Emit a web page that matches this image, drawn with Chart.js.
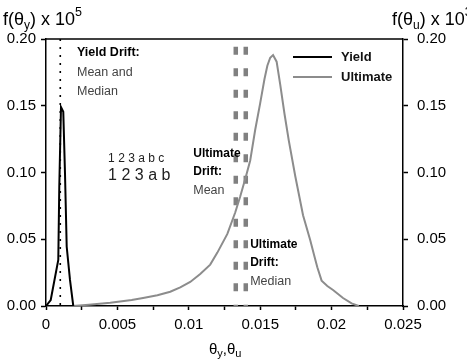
<!DOCTYPE html>
<html>
<head>
<meta charset="utf-8">
<script src="https://cdn.jsdelivr.net/npm/chart.js@4/dist/chart.umd.min.js"></script>
<style>
  body { margin: 0; background: #fff; }
  canvas { display: block; }
</style>
</head>
<body>
<canvas id="driftChart" width="467" height="361"></canvas>
<script>
// Yield drift pdf (values are f x 10^5)
const yieldX = [0, 0.00005, 0.00033, 0.00086, 0.00093, 0.00105, 0.00121, 0.00133, 0.00145, 0.00168, 0.00191];
const yieldY = [0, 0, 0.0045, 0.0345, 0.089, 0.149, 0.1455, 0.0994, 0.0444, 0.0195, 0];

// Ultimate drift pdf (values are f x 10^3)
const ultX = [0.0019, 0.003, 0.0045, 0.006, 0.0068, 0.0078, 0.0087, 0.0094, 0.0101, 0.0108, 0.0115, 0.012,
  0.0127, 0.01325, 0.0136, 0.014, 0.0143, 0.01465, 0.015, 0.0153, 0.0155, 0.0157, 0.0159, 0.01615, 0.0164,
  0.0167, 0.017, 0.01746, 0.018, 0.0185, 0.0188, 0.019, 0.0193, 0.0197, 0.0201, 0.0208, 0.0214, 0.0219];
const ultY = [0, 0.001, 0.0025, 0.0045, 0.006, 0.008, 0.0107, 0.014, 0.018, 0.024, 0.031, 0.040,
  0.054, 0.07, 0.082, 0.097, 0.109, 0.132, 0.152, 0.170, 0.180, 0.186, 0.188, 0.183, 0.166,
  0.144, 0.124, 0.097, 0.068, 0.0494, 0.037, 0.029, 0.019, 0.015, 0.012, 0.006, 0.002, 0];

// mean / median markers
const yieldMean = 0.001;
const ultMean = 0.01329;
const ultMedian = 0.01399;

const xTickLabels = ["0", "0.005", "0.01", "0.015", "0.02", "0.025"];
const yTickLabels = ["0.00", "0.05", "0.10", "0.15", "0.20"];
const legendLabels = ["Yield", "Ultimate"];

const FONT = "'Liberation Sans', Arial, sans-serif";

function toPoints(xs, ys) {
  return xs.map((x, i) => ({ x: x, y: ys[i] }));
}

function vline(x) {
  return [{ x: x, y: 0.2 }, { x: x, y: 0 }];
}

// text with sub/superscripts: parts = [[text, size, dy]]
function richText(ctx, x, y, parts) {
  let cx = x;
  parts.forEach(p => {
    ctx.font = p[1] + "px " + FONT;
    ctx.fillText(p[0], cx, y + p[2]);
    cx += ctx.measureText(p[0]).width;
  });
}

const extrasPlugin = {
  id: "extras",
  afterDraw(chart) {
    const ctx = chart.ctx;
    const area = chart.chartArea;
    const xs = chart.scales.x;
    const ys = chart.scales.y;

    ctx.save();
    // top frame line
    ctx.strokeStyle = "#000";
    ctx.lineWidth = 1.5;
    ctx.beginPath();
    ctx.moveTo(area.left, area.top);
    ctx.lineTo(area.right, area.top);
    ctx.stroke();

    ctx.fillStyle = "#000";
    ctx.textBaseline = "alphabetic";
    ctx.textAlign = "left";

    // axis titles
    richText(ctx, 3, 25, [["f(\u03b8", 18, 0], ["y", 12, 4], [") x 10", 18, 0], ["5", 12.5, -9]]);
    richText(ctx, 392, 25, [["f(\u03b8", 18, 0], ["u", 12, 4], [") x 10", 18, 0], ["3", 12.5, -9]]);
    richText(ctx, 209, 354, [["\u03b8", 15, 0], ["y", 11, 3], [",\u03b8", 15, 0], ["u", 11, 3]]);

    // annotations (x in drift units, y on left axis)
    const note = (text, x, y, font, color) => {
      ctx.font = font;
      ctx.fillStyle = color;
      ctx.fillText(text, xs.getPixelForValue(x), ys.getPixelForValue(y));
    };
    const bold = "bold 12px " + FONT;
    const reg = "12.5px " + FONT;
    note("Yield Drift:", 0.00217, 0.187, "bold 12.5px " + FONT, "#000");
    note("Mean and", 0.00217, 0.1723, reg, "#444");
    note("Median", 0.00217, 0.158, reg, "#444");
    note("1 2 3 a b c", 0.00435, 0.1082, "12px " + FONT, "#222");
    note("1 2 3 a b", 0.00435, 0.0943, "16px " + FONT, "#222");
    note("Ultimate", 0.01031, 0.1116, bold, "#000");
    note("Drift:", 0.01031, 0.0981, bold, "#000");
    note("Mean", 0.01031, 0.0839, reg, "#444");
    note("Ultimate", 0.01430, 0.0435, bold, "#000");
    note("Drift:", 0.01430, 0.030, bold, "#000");
    note("Median", 0.01430, 0.0157, reg, "#444");

    // legend
    ctx.font = "bold 13px " + FONT;
    chart.data.datasets.slice(0, 2).forEach((ds, i) => {
      const ly = 57 + i * 20;
      ctx.strokeStyle = ds.borderColor;
      ctx.lineWidth = ds.borderWidth;
      ctx.setLineDash([]);
      ctx.beginPath();
      ctx.moveTo(293, ly);
      ctx.lineTo(332, ly);
      ctx.stroke();
      ctx.fillStyle = "#111";
      ctx.textBaseline = "middle";
      ctx.fillText(legendLabels[i], 341, ly);
    });
    ctx.restore();
  }
};

const ctx = document.getElementById("driftChart").getContext("2d");

new Chart(ctx, {
  type: "line",
  data: {
    datasets: [
      {
        label: legendLabels[0],
        data: toPoints(yieldX, yieldY),
        yAxisID: "y",
        borderColor: "#000",
        borderWidth: 2,
        pointRadius: 0,
        tension: 0
      },
      {
        label: legendLabels[1],
        data: toPoints(ultX, ultY),
        yAxisID: "y2",
        borderColor: "#8c8c8c",
        borderWidth: 2,
        pointRadius: 0,
        tension: 0
      },
      {
        label: "yield mean",
        data: vline(yieldMean),
        yAxisID: "y",
        borderColor: "#000",
        borderWidth: 1.6,
        borderDash: [2, 6],
        pointRadius: 0
      },
      {
        label: "ult mean",
        data: vline(ultMean),
        yAxisID: "y2",
        borderColor: "#808080",
        borderWidth: 4.5,
        borderDash: [8, 13.5],
        borderDashOffset: 13.8,
        borderCapStyle: "butt",
        pointRadius: 0
      },
      {
        label: "ult median",
        data: vline(ultMedian),
        yAxisID: "y2",
        borderColor: "#808080",
        borderWidth: 4.5,
        borderDash: [8, 13.5],
        borderDashOffset: 13.8,
        borderCapStyle: "butt",
        pointRadius: 0
      }
    ]
  },
  options: {
    responsive: false,
    animation: false,
    layout: { padding: { top: 39, left: 0, right: 0, bottom: 0 } },
    scales: {
      x: {
        type: "linear",
        min: 0,
        max: 0.025,
        ticks: {
          stepSize: 0.0025,
          autoSkip: false,
          maxRotation: 0,
          padding: 6,
          color: "#000",
          font: { family: FONT, size: 15 },
          callback: function(value, index) {
            return index % 2 === 0 ? xTickLabels[index / 2] : "";
          }
        },
        grid: { drawOnChartArea: false, tickLength: 4, color: "#000", tickWidth: 1.5 },
        border: { color: "#000", width: 1.5 },
        afterFit: function(scale) { scale.height = 55; }
      },
      y: {
        position: "left",
        min: 0,
        max: 0.2,
        ticks: {
          stepSize: 0.05,
          padding: 5,
          color: "#000",
          font: { family: FONT, size: 15 },
          callback: function(value, index) { return yTickLabels[index]; }
        },
        grid: { drawOnChartArea: false, tickLength: 5, color: "#000", tickWidth: 1.5 },
        border: { color: "#000", width: 1.5 },
        afterFit: function(scale) { scale.width = 46; }
      },
      y2: {
        position: "right",
        min: 0,
        max: 0.2,
        ticks: {
          stepSize: 0.05,
          padding: 9,
          color: "#000",
          font: { family: FONT, size: 15 },
          callback: function(value, index) { return yTickLabels[index]; }
        },
        grid: { drawOnChartArea: false, tickLength: 5, color: "#000", tickWidth: 1.5 },
        border: { color: "#000", width: 1.5 },
        afterFit: function(scale) { scale.width = 64; }
      }
    },
    plugins: {
      legend: { display: false },
      tooltip: { enabled: false }
    }
  },
  plugins: [extrasPlugin]
});
</script>
</body>
</html>
